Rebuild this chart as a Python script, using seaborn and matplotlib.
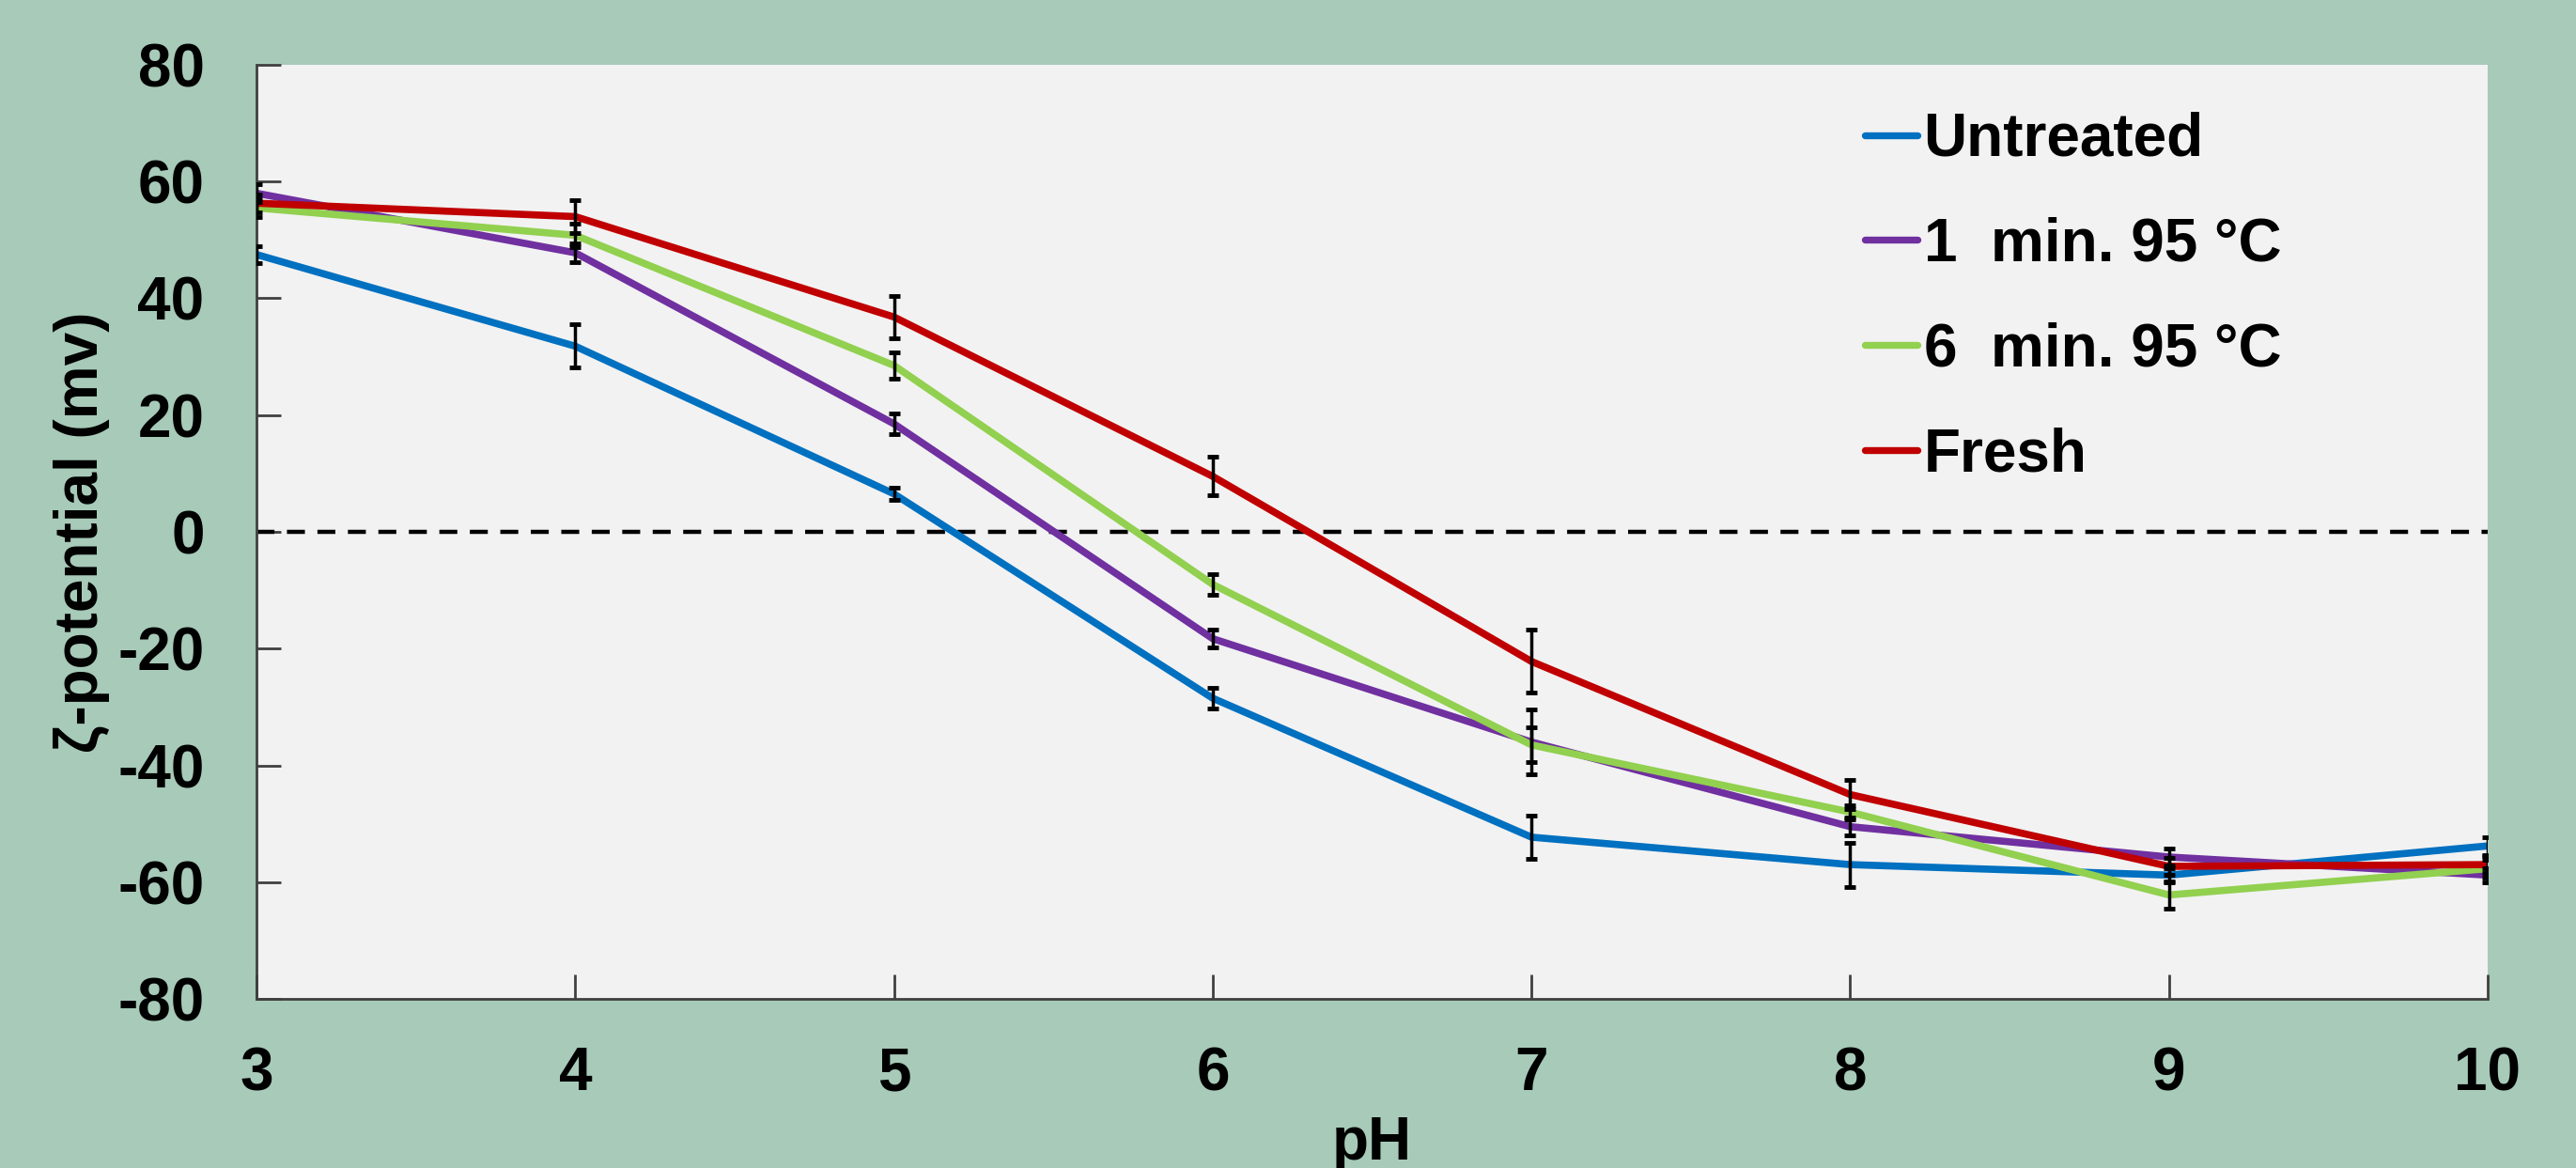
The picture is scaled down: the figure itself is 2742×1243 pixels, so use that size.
import matplotlib
matplotlib.use("Agg")

import numpy as np
import pandas as pd
import matplotlib.pyplot as plt
import seaborn as sns

# ── Data ────────────────────────────────────────────────────────────────────
ph = [3, 4, 5, 6, 7, 8, 9, 10]
samples = ["Untreated", "1  min. 95 °C", "6  min. 95 °C", "Fresh"]

untreated     = [47.5, 31.8, 6.5, -28.5, -52.3, -57.0, -58.8, -53.8]
untreated_err = [1.5, 3.7, 1.0, 1.8, 3.7, 3.8, 1.2, 1.5]
min1          = [58.0, 47.8, 18.5, -18.3, -36.0, -50.5, -55.7, -58.8]
min1_err      = [1.5, 1.6, 1.8, 1.5, 5.5, 1.5, 1.5, 1.2]
min6          = [55.5, 50.8, 28.5, -9.0, -36.5, -48.0, -62.2, -57.7]
min6_err      = [1.5, 2.0, 2.2, 1.8, 3.0, 1.2, 2.4, 1.5]
fresh         = [56.3, 54.0, 36.8, 9.5, -22.2, -45.0, -57.3, -57.0]
fresh_err     = [1.5, 2.8, 3.6, 3.3, 5.4, 2.5, 1.5, 1.5]

colors = ["#0070c0", "#7030a0", "#92d050", "#c00000"]

values = [untreated, min1, min6, fresh]
errors = [untreated_err, min1_err, min6_err, fresh_err]

df = pd.concat(
    [pd.DataFrame({"pH": ph, "zeta": v, "err": e, "sample": s})
     for s, v, e in zip(samples, values, errors)],
    ignore_index=True,
)

# ── Style ────────────────────────────────────────────────────────────────────
BG = "#a7cab9"
sns.set_style("ticks")
plt.rcParams["font.family"] = ["Liberation Sans", "DejaVu Sans"]
plt.rcParams.update({
    "font.weight": "bold",
    "axes.unicode_minus": False,
    "text.color": "black",
    "axes.labelcolor": "black",
    "xtick.color": "black",
    "ytick.color": "black",
})
FS = 46

fig = plt.figure(figsize=(27.42, 12.43), dpi=100, facecolor=BG)
ax = fig.add_axes([0.0996, 0.1448, 0.8661, 0.7997])
ax.set_facecolor("#f2f2f2")

ax.axhline(0, color="black", lw=3.2, ls=(0, (4.3, 3.0)), zorder=1)

sns.lineplot(
    data=df, x="pH", y="zeta", hue="sample", hue_order=samples,
    palette=colors, linewidth=5.5, errorbar=None, ax=ax, zorder=2,
)

for s in samples:
    sub = df[df["sample"] == s]
    ax.errorbar(sub["pH"], sub["zeta"], yerr=sub["err"], fmt="none",
                ecolor="black", elinewidth=2.5, capsize=4, capthick=3.5, zorder=3)

ax.set_xlim(3, 10)
ax.set_ylim(-80, 80)
ax.set_xticks(range(3, 11))
ax.set_yticks(range(-80, 81, 20))

for side in ["top", "right"]:
    ax.spines[side].set_visible(False)
for side in ["left", "bottom"]:
    ax.spines[side].set_color("#404040")
    ax.spines[side].set_linewidth(2)

ax.tick_params(axis="both", direction="in", length=19, width=2, color="#404040",
               labelcolor="black", labelsize=FS)
ax.tick_params(axis="y", pad=40)
ax.tick_params(axis="x", pad=36)
for lbl in ax.get_xticklabels() + ax.get_yticklabels():
    lbl.set_fontweight("bold")

ax.set_xlabel("pH", fontsize=FS, fontweight="bold", labelpad=10, color="black")
ax.set_ylabel("ζ-potential (mv)", fontsize=FS, fontweight="bold", labelpad=6,
              color="black")

handles, labels = ax.get_legend_handles_labels()
for h in handles:
    h.set_solid_capstyle("round")
    h.set_linewidth(5.3)
leg = ax.legend(
    handles, labels, loc="upper left",
    bbox_to_anchor=(1985 / 2742, 1 - 119 / 1243), bbox_transform=fig.transFigure,
    frameon=False, handlelength=0.88, handletextpad=0.1,
    labelspacing=0.81, borderpad=0, borderaxespad=0,
    prop={"weight": "bold", "size": FS},
)
for t in leg.get_texts():
    t.set_color("black")

fig.savefig("out.png", dpi=100, facecolor=BG)
